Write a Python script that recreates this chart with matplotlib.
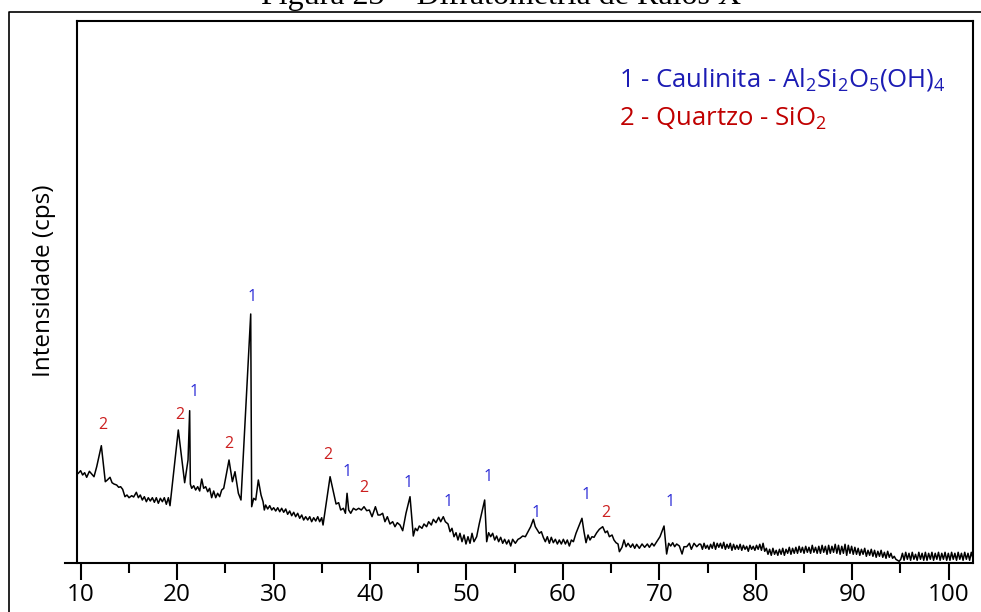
import matplotlib.pyplot as plt
import numpy as np
from matplotlib.lines import Line2D

plt.rcParams['font.family'] = ['Open Sans', 'DejaVu Sans']
plt.rcParams['mathtext.default'] = 'regular'

# --- diffractogram, peak region (2theta in degrees, intensity in arbitrary cps) ---
theta_a = [9.75, 9.99, 10.20, 10.41, 10.62, 10.90, 11.14, 11.38, 11.66, 12.14,
           12.55, 12.76, 13.04, 13.25, 13.45, 13.73, 13.94, 14.14, 14.35, 14.59,
           14.80, 15.01, 15.29, 15.49, 15.77, 15.98, 16.18, 16.39, 16.60, 16.81,
           17.01, 17.22, 17.43, 17.64, 17.84, 18.05, 18.26, 18.47, 18.67, 18.88,
           19.09, 19.26, 20.12, 20.78, 21.13, 21.30, 21.37, 21.51, 21.72, 21.92,
           22.13, 22.34, 22.55, 22.75, 22.96, 23.17, 23.37, 23.58, 23.79, 24.00,
           24.20, 24.41, 24.62, 24.83, 25.38, 25.73, 26.00, 26.35, 26.62, 27.63,
           27.73, 27.94, 28.15, 28.42, 28.70, 28.91, 29.04, 29.18, 29.39, 29.60,
           29.81, 30.01, 30.22, 30.43, 30.64, 30.84, 31.05, 31.26, 31.46, 31.67,
           31.88, 32.09, 32.29, 32.50, 32.71, 32.92, 33.12, 33.33, 33.54, 33.75,
           33.95, 34.16, 34.37, 34.58, 34.78, 34.99, 35.13, 35.86, 36.48, 36.75,
           36.96, 37.24, 37.45, 37.62, 37.79, 38.00, 38.28, 38.55, 38.83, 39.10,
           39.38, 39.66, 39.93, 40.21, 40.56, 40.83]
counts_a = [90.0, 92.6, 88.3, 90.6, 86.0, 92.0, 89.3, 86.6, 96.6, 117.6,
            81.6, 83.3, 86.0, 80.6, 79.3, 78.3, 76.0, 76.6, 74.0, 66.6,
            68.3, 65.6, 67.6, 66.3, 71.0, 65.6, 68.3, 63.3, 66.6, 61.6,
            65.6, 62.3, 65.6, 61.0, 65.6, 60.0, 65.0, 61.6, 65.6, 59.0,
            65.6, 57.6, 133.3, 80.6, 103.3, 152.6, 79.3, 75.0, 77.6, 73.3,
            76.6, 72.3, 84.3, 75.0, 76.6, 71.6, 75.0, 65.6, 72.3, 65.6,
            70.0, 66.6, 73.3, 75.0, 103.3, 81.6, 91.6, 70.0, 63.3, 249.3,
            56.6, 65.0, 63.3, 83.3, 68.3, 61.6, 53.3, 58.3, 54.3, 57.6,
            53.3, 55.6, 52.3, 55.6, 51.6, 55.0, 51.0, 54.3, 49.0, 52.3,
            47.6, 51.0, 46.6, 50.0, 45.0, 48.3, 43.3, 46.6, 43.3, 46.6,
            41.6, 45.6, 42.3, 46.6, 41.6, 45.6, 38.3, 86.6, 59.3, 60.6,
            53.3, 55.0, 50.0, 70.0, 53.3, 50.0, 55.0, 53.3, 55.0, 53.3,
            56.6, 52.6, 53.3, 46.6, 56.6, 48.3]

theta_b = [41.04, 41.31, 41.55, 41.80, 42.07, 42.35, 42.59, 42.83, 43.11, 43.39,
           43.73, 44.15, 44.49, 44.70, 44.91, 45.11, 45.39, 45.60, 45.87, 46.08,
           46.36, 46.57, 46.84, 47.12, 47.33, 47.60, 47.81, 48.09, 48.30, 48.50,
           48.71, 48.92, 49.12, 49.33, 49.54, 49.75, 49.95, 50.16, 50.37, 50.58,
           50.78, 51.06, 51.34, 51.89, 52.10, 52.30, 52.51, 52.72, 52.93, 53.13,
           53.34, 53.55, 53.76, 53.96, 54.17, 54.38, 54.59, 54.79, 55.07, 55.35,
           55.55, 55.83, 56.11, 56.38, 56.66, 56.94, 57.14, 57.35, 57.56, 57.77,
           57.97, 58.18, 58.39, 58.60, 58.80, 59.01, 59.22, 59.43, 59.63, 59.84,
           60.05, 60.26, 60.46, 60.67, 60.88, 61.09, 61.36, 61.98, 62.19, 62.40,
           62.61, 62.81, 63.02, 63.23, 63.51, 63.78, 64.13, 64.40, 64.61, 64.82,
           65.10, 65.30, 65.51, 65.72, 65.86, 66.13, 66.34, 66.55, 66.76, 67.03,
           67.24, 67.45, 67.65, 67.93, 68.21, 68.48, 68.76, 68.97, 69.24, 69.45,
           69.73, 70.07, 70.49, 70.76, 70.97, 71.18, 71.39, 71.59, 71.80, 72.08,
           72.36, 72.56, 72.84, 73.12, 73.32, 73.60, 73.88, 74.15]
counts_b = [48.3, 50.0, 41.6, 46.6, 39.3, 41.6, 36.6, 40.6, 38.3, 32.6,
            50.0, 66.6, 27.3, 35.0, 32.6, 37.3, 35.0, 39.3, 36.6, 41.6,
            38.3, 44.0, 40.6, 46.0, 41.6, 46.6, 41.6, 39.3, 31.6, 35.0,
            26.6, 30.6, 23.3, 30.0, 21.6, 28.3, 19.3, 26.6, 20.0, 30.0,
            21.6, 26.6, 40.0, 63.3, 21.6, 30.6, 26.6, 30.0, 23.3, 27.3,
            21.6, 26.0, 20.0, 24.0, 19.3, 23.3, 17.3, 24.0, 20.0, 24.0,
            25.0, 27.3, 26.6, 31.6, 36.6, 44.0, 36.6, 33.3, 30.0, 31.6,
            26.0, 21.6, 26.6, 20.0, 26.0, 20.6, 24.0, 19.3, 23.3, 19.3,
            24.0, 19.3, 23.3, 17.3, 23.3, 21.6, 30.0, 45.0, 31.6, 20.6,
            28.3, 23.3, 26.6, 26.0, 30.6, 34.0, 36.6, 30.6, 32.3, 26.6,
            28.3, 23.3, 20.6, 19.3, 11.6, 16.0, 23.3, 16.6, 20.0, 16.0,
            19.3, 15.0, 19.0, 15.0, 19.3, 16.0, 19.3, 16.0, 20.0, 17.3,
            21.6, 26.6, 37.3, 9.3, 20.0, 17.3, 20.6, 16.6, 19.3, 17.3,
            9.3, 16.6, 16.6, 20.0, 14.0, 20.0, 16.6, 19.3]

# --- high-angle tail, regular 0.17 deg steps ---
tail_start = 74.30
tail_step = 0.17
counts_tail = [19, 14, 20, 15, 18, 14, 19, 15, 21, 14, 20, 16,
               20, 15, 21, 14, 19, 15, 20, 13, 19, 14, 18, 14,
               19, 13, 18, 14, 17, 12, 18, 14, 17, 13, 18, 14,
               19, 13, 20, 12, 15, 9, 14, 8, 15, 9, 13, 8,
               14, 9, 15, 8, 14, 10, 16, 9, 15, 10, 16, 10,
               17, 11, 16, 10, 17, 11, 16, 10, 18, 11, 16, 10,
               17, 10, 18, 11, 17, 9, 18, 10, 17, 11, 19, 10,
               18, 9, 17, 10, 19, 8, 18, 10, 17, 9, 16, 9,
               15, 8, 14, 9, 15, 7, 13, 8, 14, 7, 13, 6,
               12, 7, 13, 6, 11, 5, 12, 6, 10, 5, 7, 4,
               3, 2, 4, 10, 3, 11, 4, 10, 3, 11, 4, 9,
               3, 11, 4, 10, 3, 11, 3, 10, 4, 11, 3, 10,
               4, 11, 3, 10, 4, 11, 3, 10, 3, 11, 4, 10,
               3, 11, 4, 10, 3, 11, 4, 10, 3, 11, 5]

# peak identification: 1 = caulinita, 2 = quartzo (label anchor in data coords)
peak_theta = [12.28, 20.30, 21.78, 25.38, 27.73, 35.61, 37.58, 39.38,
              43.97, 48.12, 52.20, 57.18, 62.40, 64.47, 71.11]
peak_level = [138.3, 148.3, 171.6, 119.3, 266.6, 108.3, 91.6, 75.0,
              80.0, 61.6, 86.0, 50.6, 68.3, 50.6, 61.6]
peak_phase = ['2', '2', '1', '2', '1', '2', '1', '2',
              '1', '1', '1', '1', '1', '2', '1']

x_ticks = [10, 20, 30, 40, 50, 60, 70, 80, 90, 100]

theta_tail = tail_start + tail_step * np.arange(len(counts_tail))
two_theta = np.concatenate([theta_a, theta_b, theta_tail])
counts = np.concatenate([counts_a, counts_b, counts_tail])

phase_colors = {'1': '#2b2bd6', '2': '#cc1f1f'}

fig = plt.figure(figsize=(9.81, 6.12), dpi=100)
ax = fig.add_axes([65 / 981, 48.7 / 612, 908.3 / 981, 542.8 / 612])

ax.plot(two_theta, counts, color='black', linewidth=1.1)

for t, lvl, ph in zip(peak_theta, peak_level, peak_phase):
    ax.text(t, lvl, ph, color=phase_colors[ph], fontsize=11.5,
            ha='center', va='center')

ax.set_xlim(8.372, 102.56)
ax.set_ylim(0, 542.8)

# box: left spine sits a bit right of where the x axis starts
for s in ax.spines.values():
    s.set_linewidth(1.5)
ax.spines['left'].set_position(('data', 9.62))
ax.spines['top'].set_bounds(9.62, 102.56)

ax.set_xticks(x_ticks)
ax.set_xticks([15, 25, 35, 45, 55, 65, 75, 85, 95], minor=True)
ax.set_yticks([])
ax.tick_params(axis='x', which='major', direction='out', length=12.5,
               width=1.5, labelsize=17.5, pad=2)
ax.tick_params(axis='x', which='minor', direction='out', length=7,
               width=1.5)

# y label placed by hand, like the original figure
fig.text(44 / 981, 1 - 281 / 612, 'Intensidade (cps)', rotation=90,
         fontsize=17.5, ha='center', va='center')

# legend text
fig.text(619 / 981, 1 - 86.7 / 612,
         '1 - Caulinita - Al$_2$Si$_2$O$_5$(OH)$_4$',
         color='#1c1cb4', fontsize=18.5, ha='left', va='baseline')
fig.text(619 / 981, 1 - 126 / 612, '2 - Quartzo - SiO$_2$',
         color='#c00000', fontsize=18.5, ha='left', va='baseline')

# document caption, cut off at the top of the screenshot
fig.text(501 / 981, 1 - 4 / 612, 'Figura 23 – Difratometria de Raios X',
         family='Liberation Serif', fontsize=23, ha='center', va='baseline')

# outer document frame
fig.add_artist(Line2D([9 / 981, 9 / 981, 1.0], [0.0, 1 - 12 / 612, 1 - 12 / 612],
                      transform=fig.transFigure, color='black', linewidth=1.2))

fig.savefig('out.png', dpi=100)
